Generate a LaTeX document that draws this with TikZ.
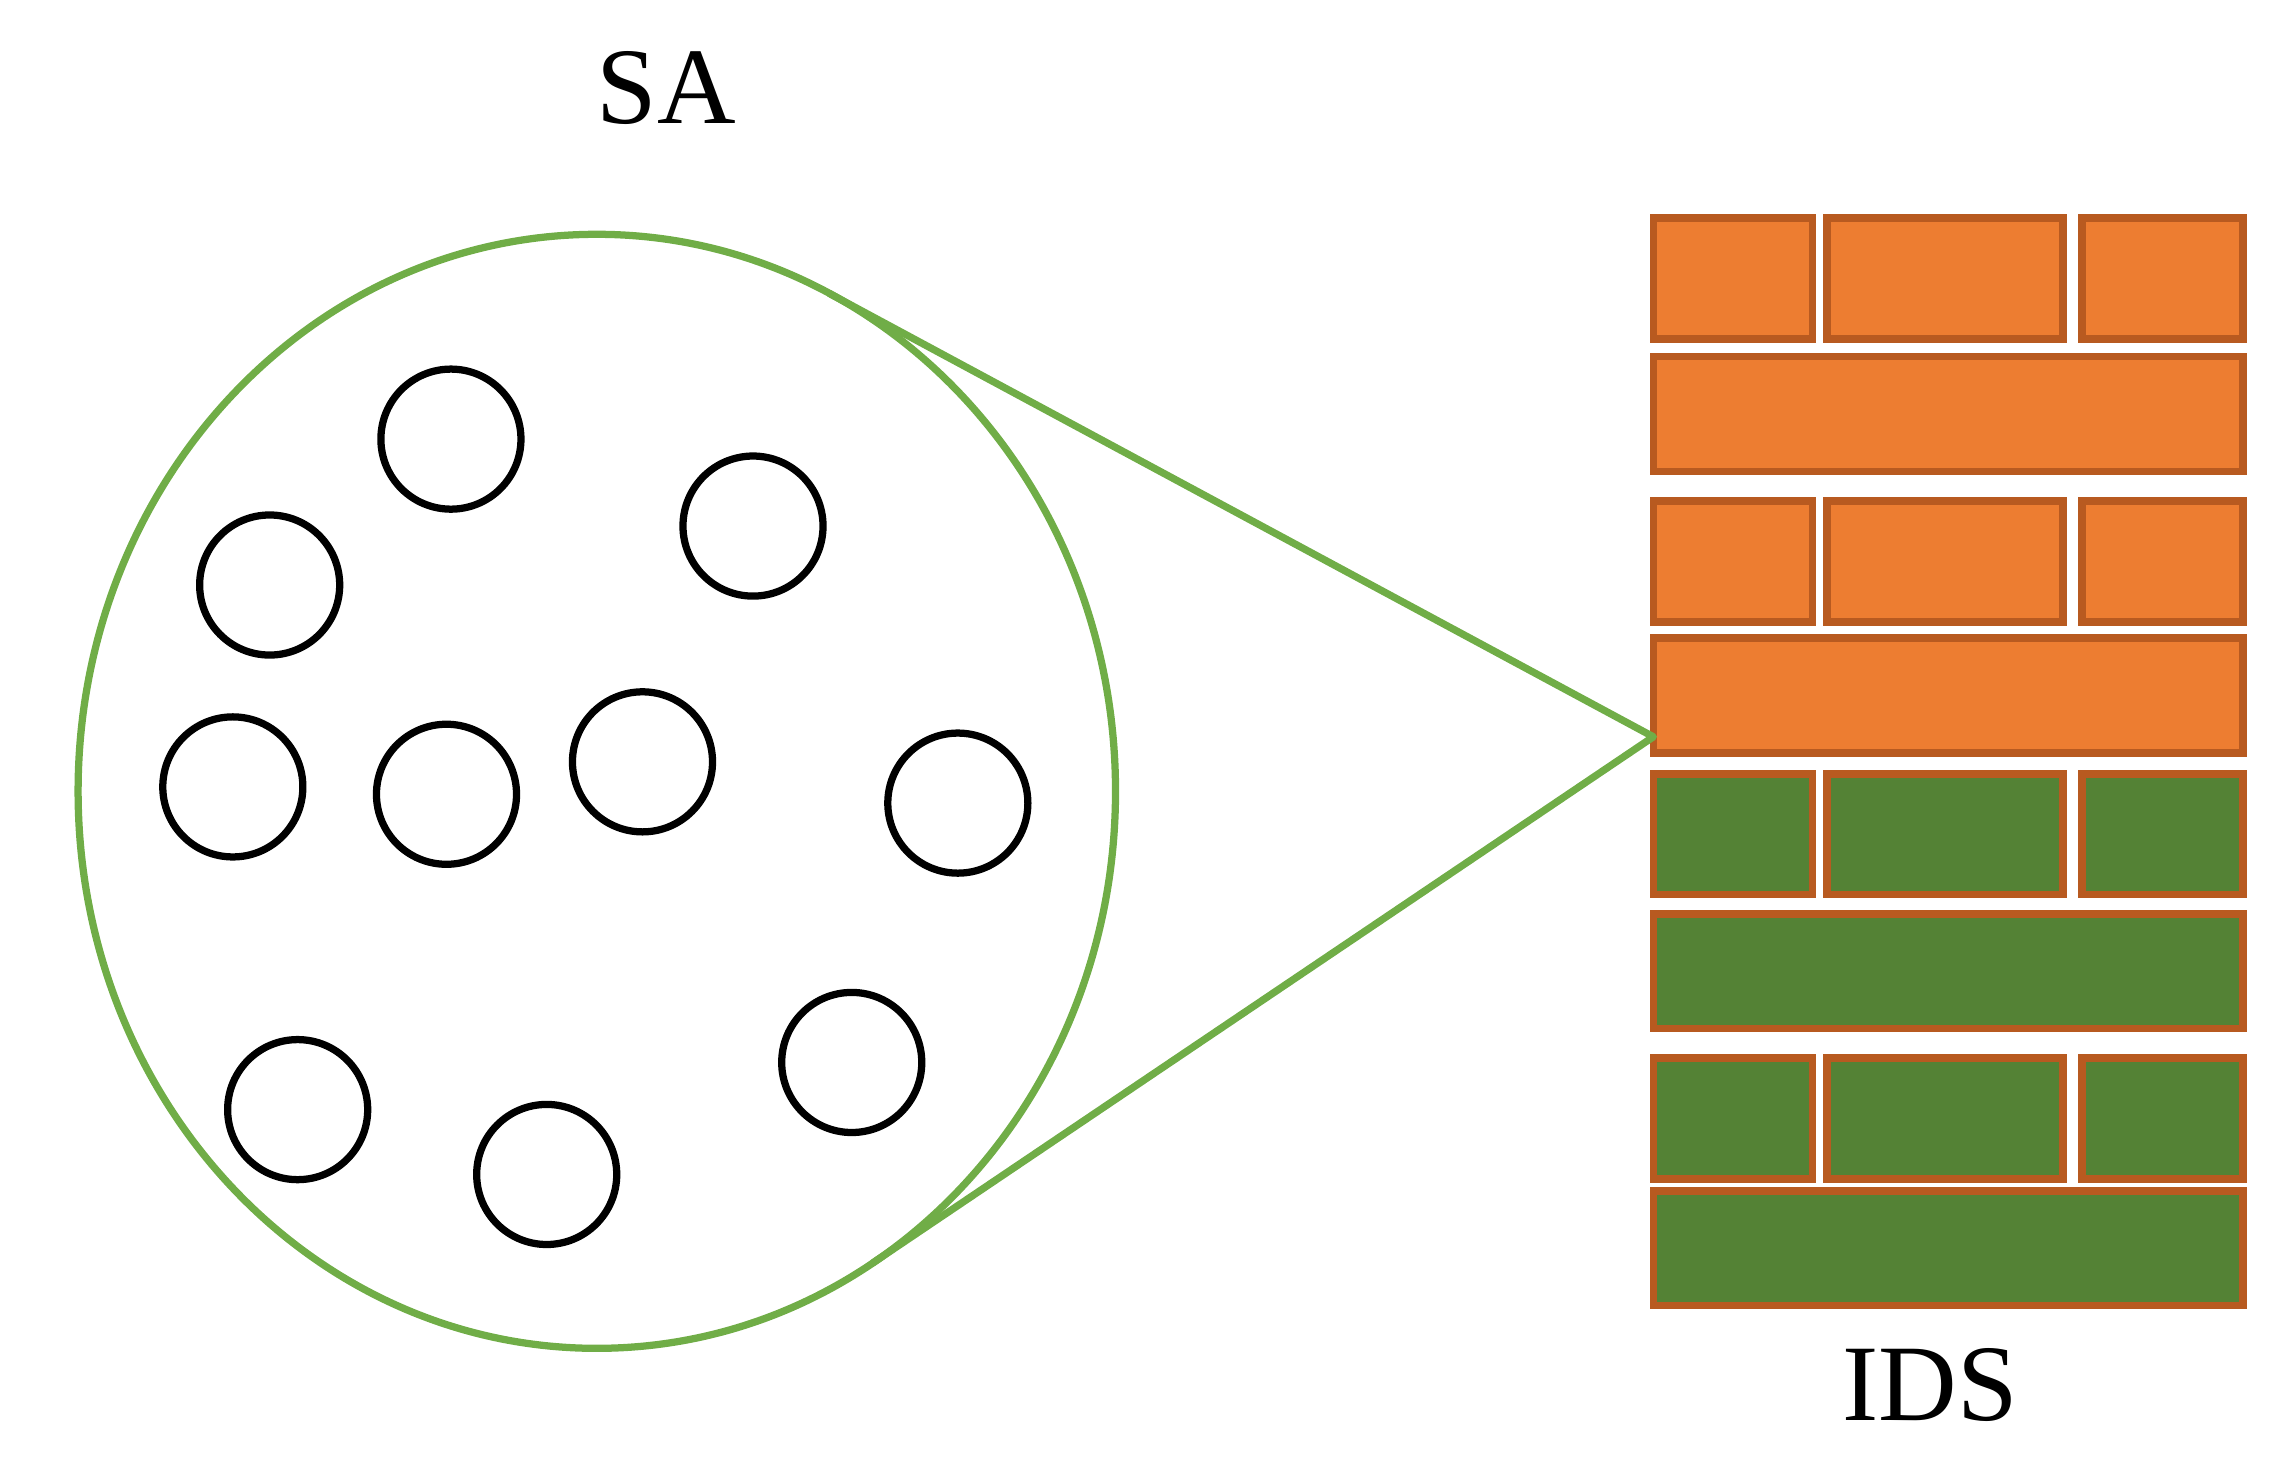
\documentclass[tikz,border=0pt]{standalone}
\usepackage{fontspec}
\setmainfont{Liberation Serif}
\usetikzlibrary{positioning}
\definecolor{zonegreen}{RGB}{112,173,71}
\definecolor{brickorange}{RGB}{237,125,49}
\definecolor{brickgreen}{RGB}{84,130,53}
\definecolor{mortar}{RGB}{184,90,32}
\tikzset{
  host/.style={circle, draw=black, line width=1.4pt, minimum size=0.95cm, inner sep=0pt},
  obrick/.style={fill=brickorange, draw=mortar, line width=1.5pt},
  gbrick/.style={fill=brickgreen, draw=mortar, line width=1.5pt},
  label/.style={font=\normalfont\upshape\fontsize{21}{25}\selectfont}
}
\begin{document}
\begin{tikzpicture}[x=0.01cm,y=-0.01cm]
        \useasboundingbox (0,0) rectangle (1552,997);

        % Zone
        \draw[zonegreen, line width=1.4pt] (405,537) ellipse (352 and 378);
        \node[label] (sa) at (452,60) {SA};

        % Hosts
        \foreach \name/\x/\y in {h1/306/298, h2/183/397, h3/511/357, h4/158/534, h5/303/539,
                                 h6/436/517, h7/650/545, h8/202/753, h9/371/797, h10/578/721}
            \node[host] (\name) at (\x,\y) {};

        % Wall
        \foreach \y/\s in {148/obrick, 340/obrick, 525/gbrick, 718/gbrick} {
            \draw[\s] (1122,\y) rectangle (1230,\y+82);
            \draw[\s] (1240,\y) rectangle (1400,\y+82);
            \draw[\s] (1413,\y) rectangle (1522,\y+82);
        }
        \foreach \y/\s in {242/obrick, 433/obrick, 620/gbrick, 808/gbrick}
            \draw[\s] (1122,\y) rectangle (1522,\y+78);
        \node[label] (ids) at (1310,940) {IDS};

        % Zoom lines
        \coordinate (apex) at (1122,500);
        \coordinate (top) at ({405+352*cos(-63.4)},{537+378*sin(-63.4)});
        \coordinate (bot) at ({405+352*cos(57.9)},{537+378*sin(57.9)});
        \draw[zonegreen, line width=1.4pt, line join=round] (top) -- (apex) -- (bot);
\end{tikzpicture}
\end{document}
